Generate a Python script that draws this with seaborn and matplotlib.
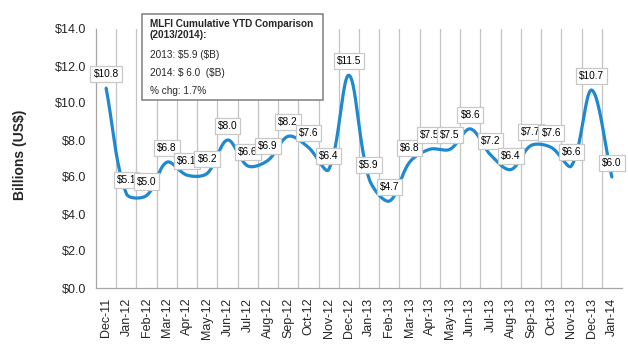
import numpy as np
import pandas as pd
import matplotlib
matplotlib.use("Agg")
import matplotlib.pyplot as plt
from matplotlib.patches import Rectangle
import seaborn as sns

# Monthly MLFI volumes, billions of US dollars
months = ["Dec-11", "Jan-12", "Feb-12", "Mar-12", "Apr-12", "May-12", "Jun-12",
          "Jul-12", "Aug-12", "Sep-12", "Oct-12", "Nov-12", "Dec-12", "Jan-13",
          "Feb-13", "Mar-13", "Apr-13", "May-13", "Jun-13", "Jul-13", "Aug-13",
          "Sep-13", "Oct-13", "Nov-13", "Dec-13", "Jan-14"]
values = [10.8, 5.1, 5.0, 6.8, 6.1, 6.2, 8.0, 6.6, 6.9, 8.2, 7.6, 6.4, 11.5,
          5.9, 4.7, 6.8, 7.5, 7.5, 8.6, 7.2, 6.4, 7.7, 7.6, 6.6, 10.7, 6.0]
y_ticks = [0, 2, 4, 6, 8, 10, 12, 14]

box_title = "MLFI Cumulative YTD Comparison\n(2013/2014):"
box_lines = ["2013: \\$5.9 (\\$B)", "2014: \\$ 6.0  (\\$B)", "% chg: 1.7%"]

LINE = "#1e88d0"
GRID = "#c4c4c4"
AXIS = "#a6a6a6"


def smooth_curve(xs, ys, sx=1.0, sy=1.0, steps=40):
    """Smoothed line through every point: cubic Bezier segments whose control
    handles are scaled by the neighbouring segment lengths (in screen units)."""
    pts = np.column_stack([np.asarray(xs, float) * sx, np.asarray(ys, float) * sy])
    padded = np.vstack([pts[0], pts, pts[-1]])
    t = np.linspace(0, 1, steps, endpoint=False)[:, None]
    segs = []
    for i in range(len(pts) - 1):
        p0, p1, p2, p3 = padded[i], padded[i + 1], padded[i + 2], padded[i + 3]
        d01 = np.hypot(*(p1 - p0))
        d12 = np.hypot(*(p2 - p1))
        d23 = np.hypot(*(p3 - p2))
        c1 = p1 + (p2 - p0) * (d12 / (d01 + d12)) / 3.0
        c2 = p2 - (p3 - p1) * (d12 / (d12 + d23)) / 3.0
        seg = ((1 - t) ** 3) * p1 + 3 * ((1 - t) ** 2) * t * c1 \
            + 3 * (1 - t) * t ** 2 * c2 + t ** 3 * p2
        segs.append(seg)
    segs.append(pts[-1][None, :])
    out = np.vstack(segs)
    return out[:, 0] / sx, out[:, 1] / sy


sns.set_style("white")
plt.rcParams["font.family"] = ["Liberation Sans", "DejaVu Sans"]

fig = plt.figure(figsize=(6.28, 3.44), dpi=100)
ax = fig.add_axes([96 / 628, 1 - 288 / 344, (622 - 96) / 628, (288 - 29) / 344])

ax.set_xlim(-0.5, len(months) - 0.5)
ax.set_ylim(y_ticks[0], y_ticks[-1])

# pixel size of one data unit on each axis, so the smoothing works in screen space
bbox = ax.get_window_extent()
px_x = bbox.width / (len(months))
px_y = bbox.height / (y_ticks[-1] - y_ticks[0])

pos = np.arange(len(months))
cx, cy = smooth_curve(pos, values, px_x, px_y)
df = pd.DataFrame({"x": cx, "y": cy})
sns.lineplot(data=df, x="x", y="y", ax=ax, color=LINE, linewidth=2.3,
             sort=False, estimator=None, zorder=3)

# value labels above each month
for xi, v in zip(pos, values):
    ax.annotate(f"${v:.1f}", xy=(xi, v), xytext=(0, 14), textcoords="offset pixels",
                ha="center", va="center", fontsize=7.3, color="black", zorder=5,
                bbox=dict(boxstyle="square,pad=0.3", fc="white", ec="#c8c8c8", lw=0.9))

ax.set_xlim(-0.5, len(months) - 0.5)
ax.set_ylim(y_ticks[0], y_ticks[-1])

# category boundaries carry the tick marks and vertical gridlines
bounds = np.arange(len(months) + 1) - 0.5
ax.set_xticks(bounds)
ax.set_xticklabels([])
ax.set_xticks(pos, minor=True)
ax.set_xticklabels(months, minor=True, rotation=90, fontsize=9)
ax.tick_params(axis="x", which="major", length=4, width=0.9, color=AXIS, direction="out")
ax.tick_params(axis="x", which="minor", length=0, pad=7)
ax.grid(axis="x", which="major", color=GRID, lw=0.9)
ax.grid(axis="y", visible=False)
gl = ax.get_xgridlines()
gl[0].set_visible(False)
gl[-1].set_visible(False)

ax.set_yticks(y_ticks)
ax.set_yticklabels([f"${t:.1f}" for t in y_ticks], fontsize=9)
ax.tick_params(axis="y", length=4, width=0.9, color=AXIS, direction="out", pad=3)

for side in ("top", "right"):
    ax.spines[side].set_visible(False)
for side in ("left", "bottom"):
    ax.spines[side].set_color(AXIS)
    ax.spines[side].set_linewidth(0.9)

ax.set_xlabel("")
ax.set_ylabel("")
fig.text(20 / 628, 1 - 155 / 344, "Billions (US$)", rotation=90, ha="center",
         va="center", fontsize=10, fontweight="bold")

# summary box
fig.patches.append(Rectangle((142 / 628, 1 - 100 / 344), (323 - 142) / 628, (100 - 14) / 344,
                             transform=fig.transFigure, fc="white", ec="#7f7f7f",
                             lw=1.1, zorder=10))
fig.text(150 / 628, 1 - 19 / 344, box_title, ha="left", va="top", fontsize=7.2,
         fontweight="bold", linespacing=1.15, zorder=11)
for yy, line in zip([55, 73, 91], box_lines):
    fig.text(150 / 628, 1 - yy / 344, line, ha="left", va="center", fontsize=7.2,
             zorder=11)

fig.savefig("out.png", dpi=100)
